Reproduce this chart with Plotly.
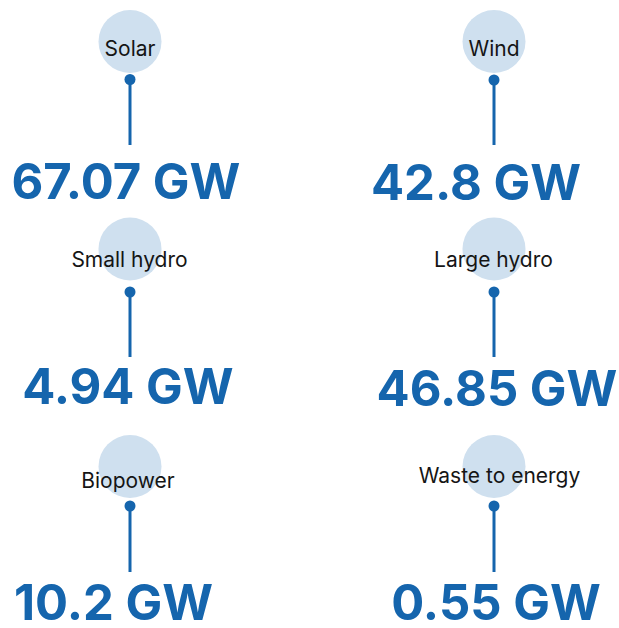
import plotly.graph_objects as go

# ---- data ----
categories = ["Solar", "Wind", "Small hydro", "Large hydro", "Biopower", "Waste to energy"]
capacity_gw = [67.07, 42.8, 4.94, 46.85, 10.2, 0.55]
capacity_text = ["67.07", "42.8", "4.94", "46.85", "10.2", "0.55"]
unit = "GW"

# ---- layout (pixel coordinates on a 619x628 canvas) ----
col_x = [130, 494, 130, 494, 130, 494]
circle_y = [41.5, 41.5, 249, 249, 466.5, 466.5]
label_y = [51, 51, 262, 262, 483, 478]
label_x = [130, 494, 129.5, 493.5, 128, 499.5]
dot_y = [79.5, 80, 292, 292, 506, 506]
line_end_y = [145, 145, 357, 357, 572, 572]
value_x = [126, 476, 128, 497, 113.5, 496]
value_y = [187, 188, 392, 394, 608, 608]

DARK = "#1565ad"
LIGHT = "#cfe0ef"

fig = go.Figure()

# circles
fig.add_trace(go.Scatter(
    x=col_x, y=circle_y, mode="markers",
    marker=dict(size=63, color=LIGHT, line=dict(width=0)),
    hoverinfo="skip", showlegend=False))

# connector lines
lx, ly = [], []
for x, y0, y1 in zip(col_x, dot_y, line_end_y):
    lx += [x, x, None]
    ly += [y0, y1, None]
fig.add_trace(go.Scatter(
    x=lx, y=ly, mode="lines", line=dict(color=DARK, width=3),
    hoverinfo="skip", showlegend=False))

# dots
fig.add_trace(go.Scatter(
    x=col_x, y=dot_y, mode="markers",
    marker=dict(size=11, color=DARK, line=dict(width=0)),
    hoverinfo="skip", showlegend=False))

# category labels
fig.add_trace(go.Scatter(
    x=label_x, y=label_y, mode="text", text=categories,
    textposition="middle center",
    textfont=dict(family="Inter", size=21, color="#151515"),
    hoverinfo="skip", showlegend=False))

# values
fig.add_trace(go.Scatter(
    x=value_x, y=value_y, mode="text",
    text=[f"{t} {unit}" for t in capacity_text],
    textposition="middle center",
    textfont=dict(family="Inter", size=49, color=DARK, weight=700),
    hoverinfo="skip", showlegend=False))

fig.update_layout(
    width=619, height=628,
    margin=dict(l=0, r=0, t=0, b=0),
    paper_bgcolor="white", plot_bgcolor="white",
    xaxis=dict(range=[0, 619], visible=False, fixedrange=True),
    yaxis=dict(range=[628, 0], visible=False, fixedrange=True),
)

fig.write_html(
    "out.html",
    config={"displayModeBar": False},
    post_script="document.body.style.margin='0';document.body.style.overflow='hidden';",
)
